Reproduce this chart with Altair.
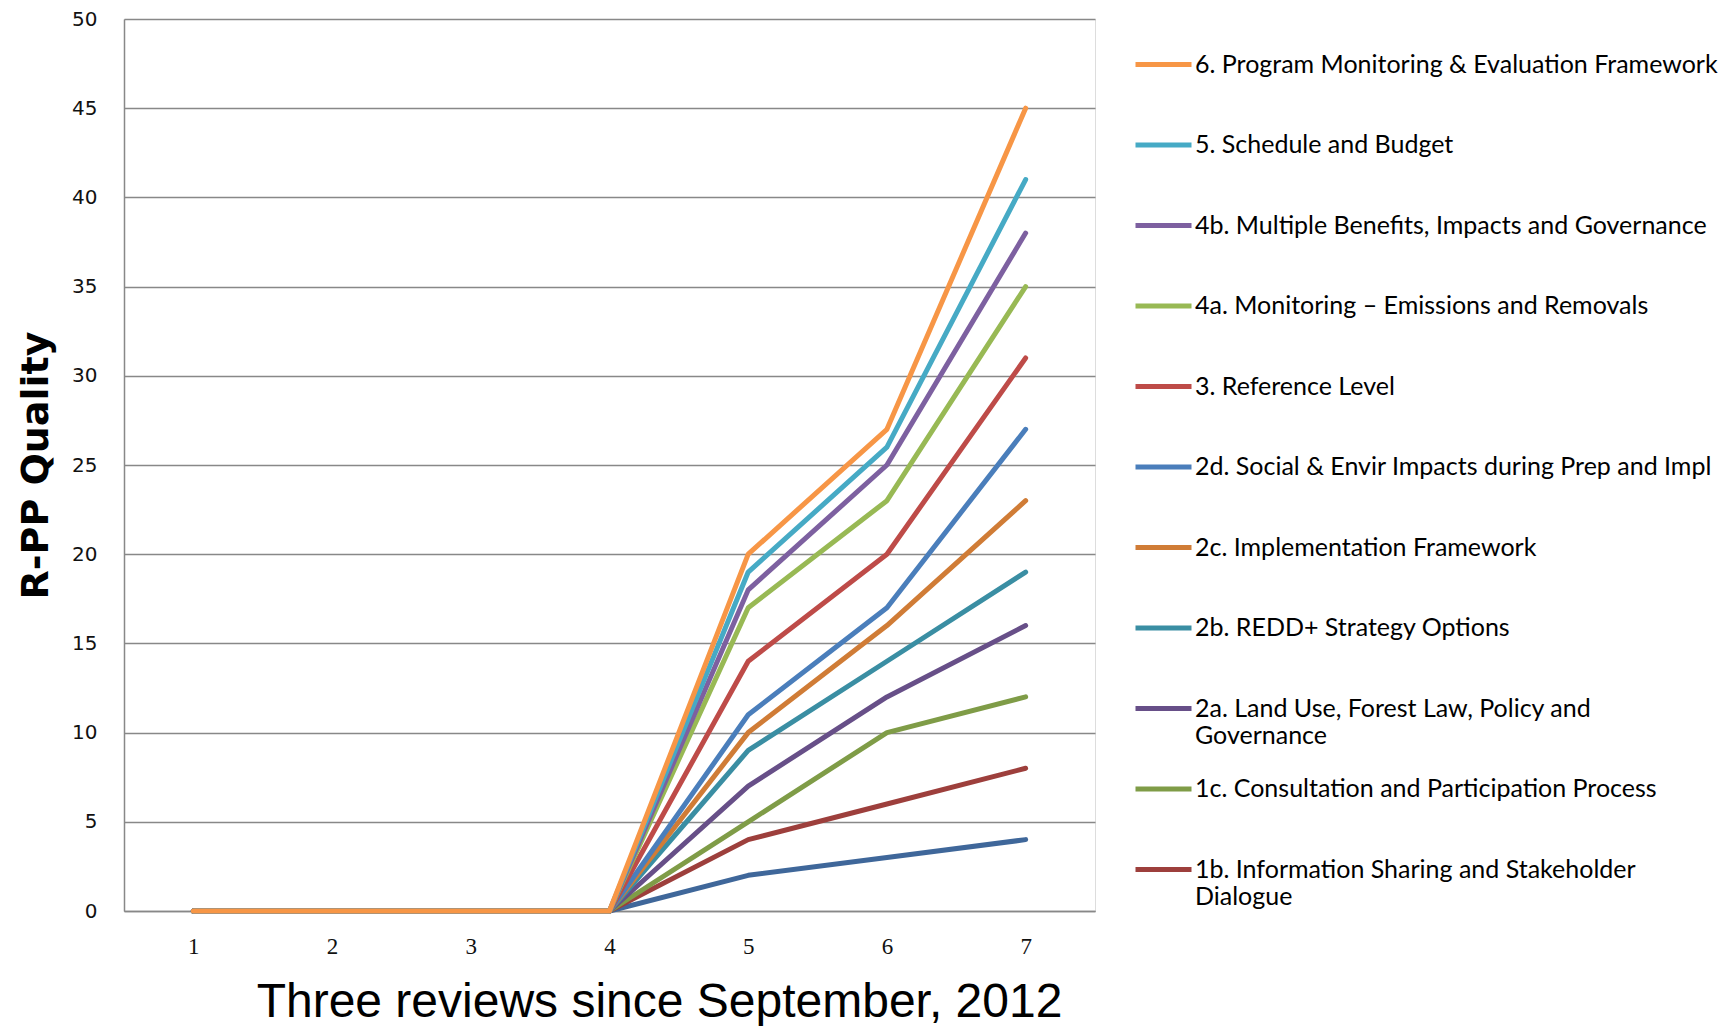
import altair as alt
import pandas as pd

reviews = [1, 2, 3, 4, 5, 6, 7]

series_names = [
    "1a. National Readiness Management Arrangements",
    "1b. Information Sharing and Stakeholder Dialogue",
    "1c. Consultation and Participation Process",
    "2a. Land Use, Forest Law, Policy and Governance",
    "2b. REDD+ Strategy Options",
    "2c. Implementation Framework",
    "2d. Social & Envir Impacts during Prep and Impl",
    "3. Reference Level",
    "4a. Monitoring \u2013 Emissions and Removals",
    "4b. Multiple Benefits, Impacts and Governance",
    "5. Schedule and Budget",
    "6. Program Monitoring & Evaluation Framework",
]

v_1a = [0, 0, 0, 0, 2, 3, 4]
v_1b = [0, 0, 0, 0, 4, 6, 8]
v_1c = [0, 0, 0, 0, 5, 10, 12]
v_2a = [0, 0, 0, 0, 7, 12, 16]
v_2b = [0, 0, 0, 0, 9, 14, 19]
v_2c = [0, 0, 0, 0, 10, 16, 23]
v_2d = [0, 0, 0, 0, 11, 17, 27]
v_3 = [0, 0, 0, 0, 14, 20, 31]
v_4a = [0, 0, 0, 0, 17, 23, 35]
v_4b = [0, 0, 0, 0, 18, 25, 38]
v_5 = [0, 0, 0, 0, 19, 26, 41]
v_6 = [0, 0, 0, 0, 20, 27, 45]

series_values = [v_1a, v_1b, v_1c, v_2a, v_2b, v_2c, v_2d, v_3, v_4a, v_4b, v_5, v_6]

colors = [
    "#3F679A", "#9D3F3C", "#7F9C47", "#674F88", "#3A8EA3", "#D07C36",
    "#4A7EBB", "#BE4B48", "#98B954", "#7D60A0", "#46AAC5", "#F79646",
]

# legend shows series from the top (6) down to 1b
legend_values = list(reversed(series_names[1:]))
wrapped = {
    "2a. Land Use, Forest Law, Policy and Governance": ["2a. Land Use, Forest Law, Policy and", "Governance"],
    "1b. Information Sharing and Stakeholder Dialogue": ["1b. Information Sharing and Stakeholder", "Dialogue"],
}

rows = []
for name, vals in zip(series_names, series_values):
    for r, v in zip(reviews, vals):
        rows.append({"series": name, "review": r, "quality": v})
df = pd.DataFrame(rows)


def esc(s):
    return s.replace("'", "\\'")


expr = "[datum.label, '']"
for full, parts in wrapped.items():
    expr = f"datum.label == '{esc(full)}' ? ['{esc(parts[0])}', '{esc(parts[1])}'] : " + expr
label_expr = expr

chart = (
    alt.Chart(df)
    .mark_line(strokeWidth=5, strokeCap="round", strokeJoin="round")
    .encode(
        x=alt.X(
            "review:O",
            scale=alt.Scale(type="point", padding=0.5),
            axis=alt.Axis(
                labelAngle=0,
                ticks=False,
                grid=False,
                domainColor="#888888",
                domainWidth=1.5,
                labelFont="Liberation Sans Narrow",
                labelFontSize=23,
                labelColor="#111111",
                labelPadding=24,
                title="Three reviews since September, 2012",
                titleFont="Liberation Sans",
                titleFontSize=48,
                titleFontWeight="normal",
                titleColor="#000000",
                titleX=535,
                titleY=105,
                titleAlign="center",
                titleBaseline="alphabetic",
            ),
        ),
        y=alt.Y(
            "quality:Q",
            scale=alt.Scale(domain=[0, 50], nice=False),
            axis=alt.Axis(
                values=list(range(0, 51, 5)),
                ticks=False,
                grid=True,
                gridColor="#888888",
                gridWidth=1.5,
                domainColor="#888888",
                domainWidth=1.5,
                labelFont="DejaVu Sans",
                labelFontSize=20,
                labelColor="#111111",
                labelPadding=27,
                title="R-PP Quality",
                titleFont="DejaVu Sans",
                titleFontSize=38,
                titleFontWeight="bold",
                titleColor="#000000",
                titleAngle=270,
                titleX=-88,
                titleY=446,
                titleAlign="center",
                titleBaseline="middle",
            ),
        ),
        color=alt.Color(
            "series:N",
            scale=alt.Scale(domain=series_names, range=colors),
            legend=alt.Legend(
                orient="none",
                legendX=1009,
                legendY=15,
                values=legend_values,
                title=None,
                symbolType="stroke",
                symbolStrokeWidth=5,
                symbolSize=3136,
                symbolOpacity=1,
                labelFont="Lato",
                labelFontSize=25,
                labelColor="#000000",
                labelLimit=700,
                labelOffset=1,
                labelExpr=label_expr,
                rowPadding=9.5,
                padding=0,
            ),
        ),
    )
    .properties(
        width=971,
        height=892,
        autosize=alt.AutoSizeParams(type="none"),
        padding={"left": 116, "top": 11, "right": 625, "bottom": 115},
    )
    .configure_view(strokeWidth=0)
    .configure(background="#ffffff")
)

chart.save("out.html", embed_options={"renderer": "svg", "actions": False})
